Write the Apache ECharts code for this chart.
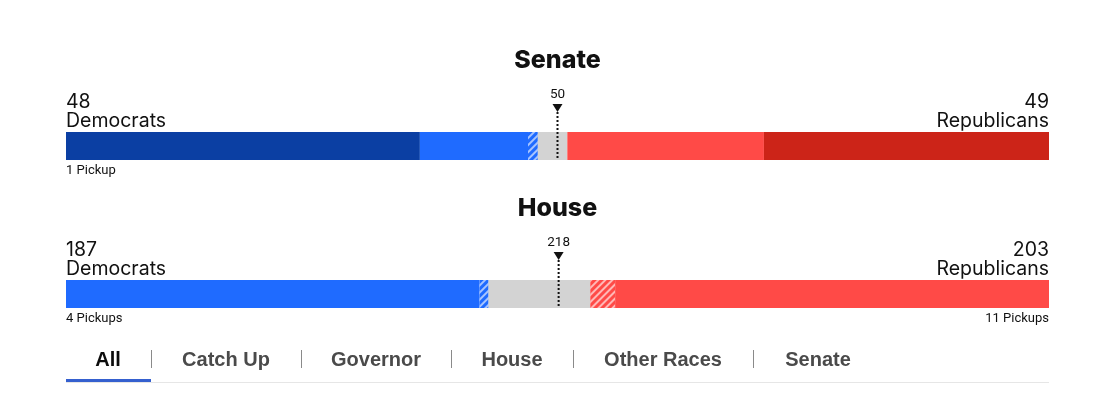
<!DOCTYPE html>
<html><head><meta charset="utf-8">
<script src="https://cdn.jsdelivr.net/npm/echarts@6/dist/echarts.min.js"></script>
<style>html,body{margin:0;padding:0;background:#fff}#c{width:1110px;height:402px}</style>
</head><body><div id="c"></div>
<script>
const chambers = ['Senate', 'House'];
const totalSeats = [100, 435];
const majorityMark = [50, 218];
const demSeats = [48, 187];
const repSeats = [49, 203];
const demPickupText = ['1 Pickup', '4 Pickups'];
const repPickupText = ['', '11 Pickups'];
const segmentNames = ['Dem not up', 'Dem won', 'Dem pickup', 'Undecided', 'Rep pickup', 'Rep won', 'Rep not up'];
const senateSegments = [36, 11, 1, 3, 0, 20, 29];
const houseSegments = [0, 183, 4, 45, 11, 192, 0];
const tabs = ['All', 'Catch Up', 'Governor', 'House', 'Other Races', 'Senate'];
const tabCenters = [108, 226, 376, 512, 663, 818];
const tabSeparators = [151, 301, 451, 573, 753];

const segColors = ['#0b3fa3', '#1f6bff', '#1f6bff', '#d3d3d3', '#ff4a47', '#ff4a47', '#cc2418'];
const hatched = [false, false, true, false, true, false, false];
const segmentData = [senateSegments, houseSegments];

const LEFT = 66, WIDTH = 983, BAR_TOPS = [132, 280], BAR_H = 28;
const chart = echarts.init(document.getElementById('c'), null, {renderer: 'canvas'});

const grids = [], xAxes = [], yAxes = [], series = [];
chambers.forEach((ch, g) => {
  grids.push({left: LEFT, width: WIDTH, top: BAR_TOPS[g], height: BAR_H, containLabel: false});
  xAxes.push({type: 'value', gridIndex: g, min: 0, max: totalSeats[g], show: false});
  yAxes.push({type: 'category', gridIndex: g, data: [ch], show: false});
  segmentNames.forEach((name, i) => {
    const item = {color: segColors[i]};
    if (hatched[i]) {
      item.decal = {symbol: 'rect', symbolSize: 1, dashArrayX: [1, 0], dashArrayY: [2, 2.5],
        rotation: -Math.PI / 4, color: 'rgba(255,255,255,0.6)'};
    }
    series.push({
      type: 'bar', name: ch + ' ' + name, xAxisIndex: g, yAxisIndex: g, stack: 'seats' + g,
      barWidth: BAR_H, silent: true, animation: false, itemStyle: item,
      data: [segmentData[g][i]]
    });
  });
});

chart.setOption({animation: false, grid: grids, xAxis: xAxes, yAxis: yAxes, series: series});

const graphics = [];
const txtCol = '#111';
const labelFont = '19.5px Inter, sans-serif';
const smallFont = '13px "Liberation Sans Narrow", "Roboto", sans-serif';
chambers.forEach((ch, g) => {
  const top = BAR_TOPS[g];
  const p0 = chart.convertToPixel({gridIndex: g}, [0, ch]);
  const p1 = chart.convertToPixel({gridIndex: g}, [totalSeats[g], ch]);
  const pm = chart.convertToPixel({gridIndex: g}, [majorityMark[g], ch]);
  const cx = (p0[0] + p1[0]) / 2;
  graphics.push({type: 'text', x: cx, y: top - 72, style: {text: ch, font: '800 25px Inter, "Liberation Sans", sans-serif', fill: txtCol, align: 'center', verticalAlign: 'middle'}});
  graphics.push({type: 'text', x: p0[0], y: top - 30, style: {text: String(demSeats[g]), font: labelFont, fill: txtCol, align: 'left', verticalAlign: 'middle'}});
  graphics.push({type: 'text', x: p0[0], y: top - 11, style: {text: 'Democrats', font: labelFont, fill: txtCol, align: 'left', verticalAlign: 'middle'}});
  graphics.push({type: 'text', x: p1[0], y: top - 30, style: {text: String(repSeats[g]), font: labelFont, fill: txtCol, align: 'right', verticalAlign: 'middle'}});
  graphics.push({type: 'text', x: p1[0], y: top - 11, style: {text: 'Republicans', font: labelFont, fill: txtCol, align: 'right', verticalAlign: 'middle'}});
  graphics.push({type: 'text', x: p0[0], y: top + BAR_H + 11, style: {text: demPickupText[g], font: smallFont, fill: txtCol, align: 'left', verticalAlign: 'middle'}});
  graphics.push({type: 'text', x: p1[0], y: top + BAR_H + 11, style: {text: repPickupText[g], font: smallFont, fill: txtCol, align: 'right', verticalAlign: 'middle'}});
  // majority marker
  graphics.push({type: 'text', x: pm[0], y: top - 37, style: {text: String(majorityMark[g]), font: '13.5px "Liberation Sans Narrow", "Roboto", sans-serif', fill: txtCol, align: 'center', verticalAlign: 'middle'}});
  graphics.push({type: 'polygon', z: 10, shape: {points: [[pm[0] - 5, top - 28], [pm[0] + 5, top - 28], [pm[0], top - 20]]}, style: {fill: txtCol}});
  graphics.push({type: 'line', z: 10, shape: {x1: pm[0], y1: top - 20, x2: pm[0], y2: top + BAR_H}, style: {stroke: txtCol, lineWidth: 2, lineDash: [2, 2]}});
});

tabs.forEach((t, i) => {
  graphics.push({type: 'text', x: tabCenters[i], y: 360, style: {text: t, font: 'bold 20px "Liberation Sans", Arial, sans-serif', fill: i === 0 ? '#0c0c0c' : '#4a4a4a', align: 'center', verticalAlign: 'middle'}});
});
tabSeparators.forEach(x => {
  graphics.push({type: 'rect', shape: {x: x, y: 350, width: 1, height: 18}, style: {fill: '#8a8a8a'}});
});
graphics.push({type: 'rect', shape: {x: LEFT, y: 382, width: WIDTH, height: 1}, style: {fill: '#e6e6e6'}});
graphics.push({type: 'rect', z: 5, shape: {x: LEFT, y: 379, width: 85, height: 3}, style: {fill: '#3560cf'}});

chart.setOption({graphic: graphics});
</script></body></html>
